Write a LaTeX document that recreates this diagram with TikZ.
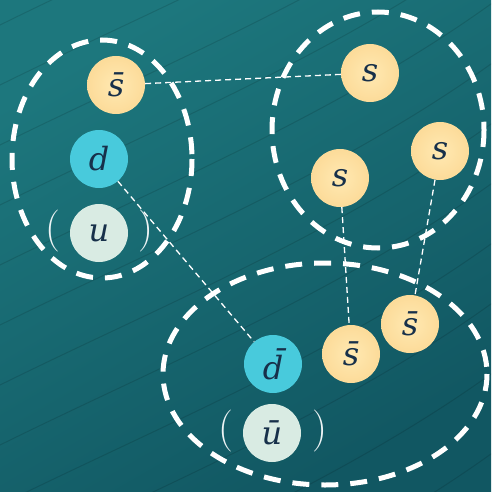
\documentclass[tikz,border=0pt]{standalone}
\usepackage{fontspec}
\setmainfont{DejaVu Serif}
\newfontfamily\parenfont{Latin Modern Roman}
\usetikzlibrary{shapes.geometric}
\definecolor{bgA}{HTML}{1D777D}
\definecolor{bgB}{HTML}{115762}
\definecolor{sIn}{HTML}{FFE9B2}
\definecolor{sOut}{HTML}{FCDB99}
\definecolor{dCol}{HTML}{48CADC}
\definecolor{uCol}{HTML}{D9EBE3}
\definecolor{ink}{HTML}{17304A}
\begin{document}
\begin{tikzpicture}[x=1pt,y=-1pt,
  quark/.style={circle,minimum size=58pt,inner sep=0pt,text=ink,font=\fontsize{32}{32}\selectfont\itshape},
  squark/.style={quark,shading=radial,inner color=sIn,outer color=sOut},
  dquark/.style={quark,fill=dCol},
  uquark/.style={quark,fill=uCol},
  group/.style={draw=white,line width=5pt,dash pattern=on 17pt off 12pt},
  link/.style={draw=white,line width=1.3pt,dash pattern=on 6pt off 4pt},
  paren/.style={text=white!92!bgA,font=\parenfont\fontsize{42}{42}\selectfont,inner sep=0pt}]
\useasboundingbox (0,0) rectangle (491,492);
\shade[shading=axis,top color=bgA,bottom color=bgB,shading angle=30] (0,0) rectangle (491,492);
\begin{scope}
\clip (0,0) rectangle (491,492);
\foreach \o in {-300,-220,-150,-90,-30,30,90,150,210,270,330,390,450,520,600} {
  \draw[black,opacity=0.12,line width=1pt] (-10,\o+120) .. controls (150,\o+40) and (350,\o-40) .. (510,\o-160);
}
\end{scope}
% groups
\draw[group] (102,159) ellipse [x radius=90, y radius=119];
\draw[group] (378,130) ellipse [x radius=106, y radius=118];
\draw[group] (325,374) ellipse [x radius=162, y radius=111];
% quarks
\node[squark] (sb1) at (116,85) {s̄};
\node[dquark] (d) at (99,159) {d};
\node[uquark] (u) at (99,233) {u};
\node[paren] (lp1) at (53,231) {(};
\node[paren] (rp1) at (146,231) {)};
\node[squark] (s1) at (370,73) {s};
\node[squark] (s2) at (340,178) {s};
\node[squark] (s3) at (440,151) {s};
\node[dquark] (db) at (273,364) {d̄};
\node[squark] (sb2) at (351,354) {s̄};
\node[squark] (sb3) at (410,324) {s̄};
\node[uquark] (ub) at (272,433) {ū};
\node[paren] (lp2) at (226,431) {(};
\node[paren] (rp2) at (320,431) {)};
% links
\draw[link] (sb1) -- (s1);
\draw[link] (d) -- (db);
\draw[link] (s2) -- (sb2);
\draw[link] (s3) -- (sb3);
\end{tikzpicture}
\end{document}
